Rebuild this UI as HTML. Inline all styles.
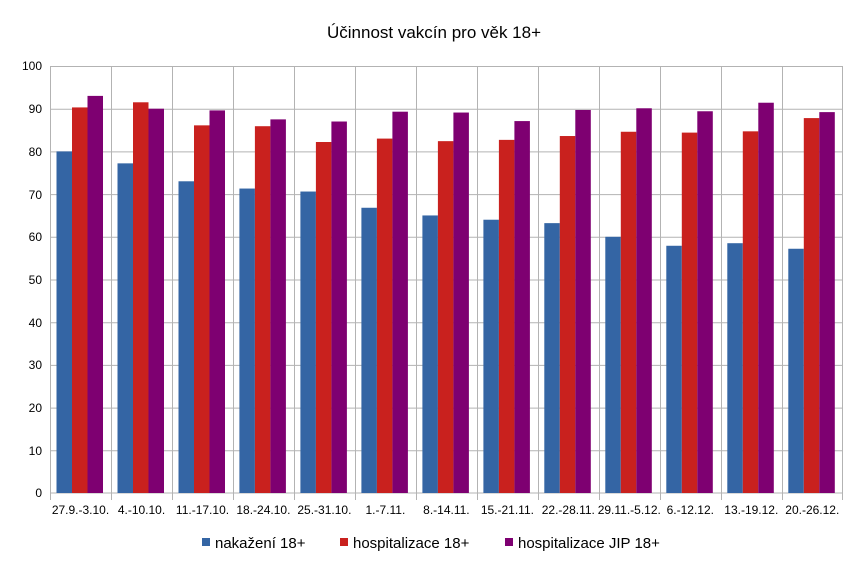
<!DOCTYPE html>
<html><head><meta charset="utf-8"><style>body{margin:0;background:#fff}svg{display:block}</style></head><body>
<svg width="868" height="576" xmlns="http://www.w3.org/2000/svg" font-family="Liberation Sans, sans-serif">
<rect width="868" height="576" fill="#fff"/>
<text x="434" y="38" font-size="17" text-anchor="middle" fill="#000">Účinnost vakcín pro věk 18+</text>
<g stroke="#b3b3b3" stroke-width="1">
<line x1="50" y1="66.5" x2="843" y2="66.5"/><line x1="50" y1="109.2" x2="843" y2="109.2"/><line x1="50" y1="151.9" x2="843" y2="151.9"/><line x1="50" y1="194.6" x2="843" y2="194.6"/><line x1="50" y1="237.3" x2="843" y2="237.3"/><line x1="50" y1="280" x2="843" y2="280"/><line x1="50" y1="322.7" x2="843" y2="322.7"/><line x1="50" y1="365.4" x2="843" y2="365.4"/><line x1="50" y1="408.1" x2="843" y2="408.1"/><line x1="50" y1="450.8" x2="843" y2="450.8"/><line x1="50" y1="493" x2="843" y2="493"/>
<line x1="50.5" y1="66" x2="50.5" y2="500"/><line x1="111.5" y1="66" x2="111.5" y2="500"/><line x1="172.5" y1="66" x2="172.5" y2="500"/><line x1="233.5" y1="66" x2="233.5" y2="500"/><line x1="294.5" y1="66" x2="294.5" y2="500"/><line x1="355.5" y1="66" x2="355.5" y2="500"/><line x1="416.5" y1="66" x2="416.5" y2="500"/><line x1="477.5" y1="66" x2="477.5" y2="500"/><line x1="538.5" y1="66" x2="538.5" y2="500"/><line x1="599.5" y1="66" x2="599.5" y2="500"/><line x1="660.5" y1="66" x2="660.5" y2="500"/><line x1="721.5" y1="66" x2="721.5" y2="500"/><line x1="782.5" y1="66" x2="782.5" y2="500"/><line x1="842.5" y1="66" x2="842.5" y2="500"/>
</g>
<g font-size="12" text-anchor="end" fill="#000">
<text x="42" y="70">100</text><text x="42" y="113">90</text><text x="42" y="156">80</text><text x="42" y="199">70</text><text x="42" y="241">60</text><text x="42" y="284">50</text><text x="42" y="327">40</text><text x="42" y="369">30</text><text x="42" y="412">20</text><text x="42" y="455">10</text><text x="42" y="497">0</text>
</g>
<g transform="translate(0,493) scale(1,-4.27)">
<g fill="#3465a4">
<rect x="56.5" y="0" width="15.5" height="80"/><rect x="117.5" y="0" width="15.5" height="77.2"/><rect x="178.5" y="0" width="15.5" height="73"/><rect x="239.4" y="0" width="15.5" height="71.3"/><rect x="300.4" y="0" width="15.5" height="70.6"/><rect x="361.4" y="0" width="15.5" height="66.8"/><rect x="422.4" y="0" width="15.5" height="65"/><rect x="483.4" y="0" width="15.5" height="64"/><rect x="544.3" y="0" width="15.5" height="63.2"/><rect x="605.3" y="0" width="15.5" height="60"/><rect x="666.3" y="0" width="15.5" height="57.9"/><rect x="727.3" y="0" width="15.5" height="58.5"/><rect x="788.3" y="0" width="15.5" height="57.2"/>
</g>
<g fill="#c9211e">
<rect x="72" y="0" width="15.5" height="90.3"/><rect x="133" y="0" width="15.5" height="91.5"/><rect x="194" y="0" width="15.5" height="86.1"/><rect x="254.9" y="0" width="15.5" height="85.9"/><rect x="315.9" y="0" width="15.5" height="82.2"/><rect x="376.9" y="0" width="15.5" height="83"/><rect x="437.9" y="0" width="15.5" height="82.4"/><rect x="498.9" y="0" width="15.5" height="82.7"/><rect x="559.8" y="0" width="15.5" height="83.6"/><rect x="620.8" y="0" width="15.5" height="84.6"/><rect x="681.8" y="0" width="15.5" height="84.4"/><rect x="742.8" y="0" width="15.5" height="84.7"/><rect x="803.8" y="0" width="15.5" height="87.8"/>
</g>
<g fill="#7e0071">
<rect x="87.5" y="0" width="15.5" height="93"/><rect x="148.5" y="0" width="15.5" height="90"/><rect x="209.5" y="0" width="15.5" height="89.6"/><rect x="270.4" y="0" width="15.5" height="87.5"/><rect x="331.4" y="0" width="15.5" height="87"/><rect x="392.4" y="0" width="15.5" height="89.3"/><rect x="453.4" y="0" width="15.5" height="89.1"/><rect x="514.4" y="0" width="15.5" height="87.1"/><rect x="575.3" y="0" width="15.5" height="89.7"/><rect x="636.3" y="0" width="15.5" height="90.1"/><rect x="697.3" y="0" width="15.5" height="89.4"/><rect x="758.3" y="0" width="15.5" height="91.4"/><rect x="819.3" y="0" width="15.5" height="89.2"/>
</g>
</g>
<g font-size="12" text-anchor="middle" fill="#000">
<text x="80.5" y="514">27.9.-3.10.</text><text x="141.5" y="514">4.-10.10.</text><text x="202.5" y="514">11.-17.10.</text><text x="263.4" y="514">18.-24.10.</text><text x="324.4" y="514">25.-31.10.</text><text x="385.4" y="514">1.-7.11.</text><text x="446.4" y="514">8.-14.11.</text><text x="507.4" y="514">15.-21.11.</text><text x="568.3" y="514">22.-28.11.</text><text x="629.3" y="514">29.11.-5.12.</text><text x="690.3" y="514">6.-12.12.</text><text x="751.3" y="514">13.-19.12.</text><text x="812.3" y="514">20.-26.12.</text>
</g>
<rect x="202" y="538" width="8" height="8" fill="#3465a4"/>
<rect x="340" y="538" width="8" height="8" fill="#c9211e"/>
<rect x="505" y="538" width="8" height="8" fill="#7e0071"/>
<g font-size="15" fill="#000">
<text x="215" y="548">nakažení 18+</text>
<text x="353" y="548">hospitalizace 18+</text>
<text x="518" y="548">hospitalizace JIP 18+</text>
</g>
</svg>
</body></html>
